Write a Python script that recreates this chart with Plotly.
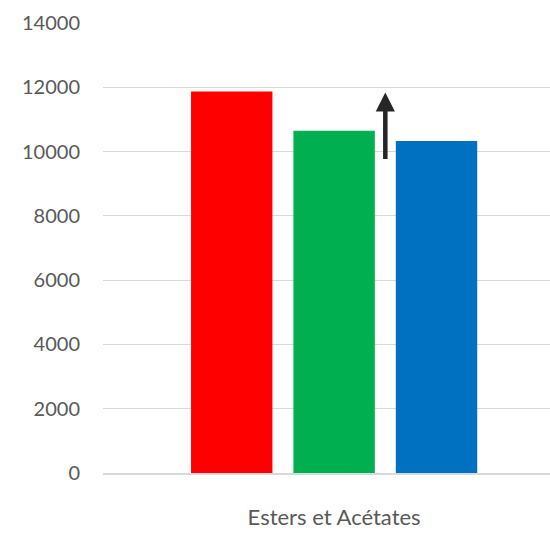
import plotly.graph_objects as go

# Data
category = ["Esters et Acétates"]
series_names = ["Série 1", "Série 2", "Série 3"]
series_values = [11870, 10650, 10330]
series_colors = ["#FF0000", "#00B050", "#0070C0"]

# Arrow marking the increase (tail -> head, in data units)
arrow_from = 9720
arrow_to = 11840

y_ticks = [0, 2000, 4000, 6000, 8000, 10000, 12000, 14000]
y_ticktext = [str(v) for v in y_ticks]

bargap = 0.3355
bargroupgap = 0.205

fig = go.Figure()
for name, val, col in zip(series_names, series_values, series_colors):
    fig.add_trace(go.Bar(x=category, y=[val], name=name, marker=dict(color=col, line=dict(width=0)),
                         showlegend=False))

# position of the arrow: boundary between the 2nd and 3rd bar slots of the group
slot = (1 - bargap) / len(series_values)
arrow_x = slot / 2

fig.add_annotation(
    x=arrow_x, y=arrow_to, ax=arrow_x, ay=arrow_from,
    xref="x", yref="y", axref="x", ayref="y",
    text="", showarrow=True, arrowhead=2, arrowsize=0.85, arrowwidth=4.5,
    arrowcolor="#262626",
)

font_family = "Lato, 'Open Sans', sans-serif"

fig.update_layout(
    width=550, height=533,
    margin=dict(l=103, r=0, t=23, b=60, autoexpand=False),
    paper_bgcolor="white", plot_bgcolor="white",
    barmode="group", bargap=bargap, bargroupgap=bargroupgap,
    font=dict(family=font_family, size=20, color="#595959"),
    xaxis=dict(
        type="category", range=[-0.5, 0.467], automargin=False,
        showgrid=False, showline=True, linecolor="#d9d9d9", linewidth=1.5,
        ticks="", ticklabelstandoff=24,
        tickfont=dict(family=font_family, size=22, color="#595959"),
    ),
    yaxis=dict(
        range=[0, 14000], tickvals=y_ticks, ticktext=y_ticktext, automargin=False,
        showgrid=True, gridcolor="#d9d9d9", gridwidth=1.2,
        zeroline=False, showline=False, ticks="",
        ticklabelstandoff=22,
        tickfont=dict(family=font_family, size=20, color="#595959"),
    ),
)

fig.write_html("out.html")
